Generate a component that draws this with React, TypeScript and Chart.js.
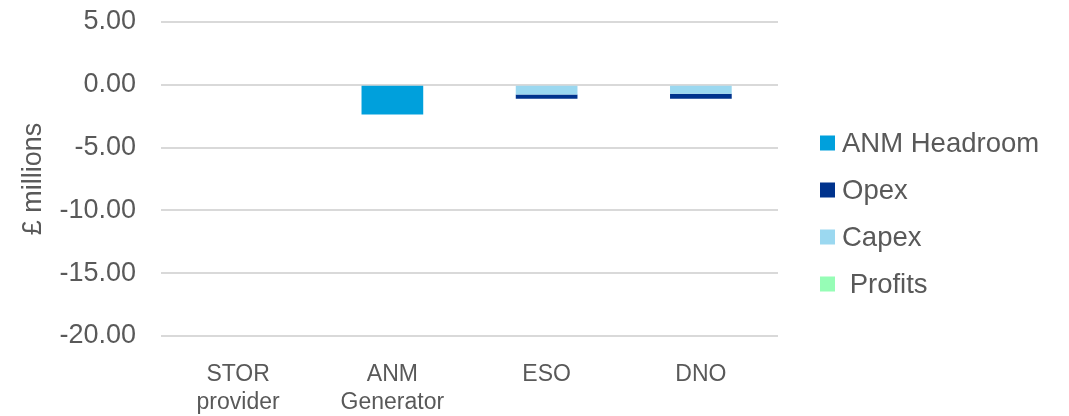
import React, { useEffect, useRef } from "react";
import { Chart, registerables } from "chart.js";

Chart.register(...registerables);

const categories: (string | string[])[] = [["STOR", "provider"], ["ANM", "Generator"], "ESO", "DNO"];
const anmHeadroom = [0, -2.36, 0, 0];
const opex = [0, 0, -0.35, -0.4];
const capex = [0, 0, -0.77, -0.72];
const profits = [0, 0, 0, 0];
const yTicks = [5, 0, -5, -10, -15, -20];

const FONT = "'Liberation Sans', Arial, sans-serif";
const TEXT = "#595959";

// Legend drawn on the canvas next to the plot area, in dataset order.
const rightLegend = {
  id: "rightLegend",
  afterDraw(chart: any) {
    const ctx = chart.ctx as CanvasRenderingContext2D;
    const area = chart.chartArea;
    const boxX = area.right + 42;
    const firstY = 143;
    const step = 47;
    const box = 15;
    ctx.save();
    ctx.font = `27.5px ${FONT}`;
    ctx.textBaseline = "middle";
    ctx.textAlign = "left";
    chart.data.datasets.forEach((ds: any, i: number) => {
      const cy = firstY + i * step;
      ctx.fillStyle = ds.backgroundColor;
      ctx.fillRect(boxX, cy - box / 2, box, box);
      ctx.fillStyle = TEXT;
      ctx.fillText(ds.label, boxX + box + 7, cy + 1);
    });
    ctx.restore();
  },
};

export default function App() {
  const ref = useRef<HTMLCanvasElement | null>(null);
  useEffect(() => {
    document.body.style.margin = "0";
    const canvas = ref.current!;
    const chart = new Chart(canvas, {
      type: "bar",
      data: {
        labels: categories,
        datasets: [
          { label: "ANM Headroom", data: anmHeadroom, backgroundColor: "#00A0DC", order: 0 },
          { label: "Opex", data: opex, backgroundColor: "#00338D", order: 2 },
          { label: "Capex", data: capex, backgroundColor: "#9BD8F0", order: 1 },
          { label: " Profits", data: profits, backgroundColor: "#96FDB6", order: 3 },
        ],
      },
      plugins: [rightLegend],
      options: {
        responsive: false,
        animation: false,
        layout: { padding: { top: 22, bottom: 0, left: 0, right: 291 } },
        datasets: { bar: { barPercentage: 0.4, categoryPercentage: 1.0 } },
        scales: {
          x: {
            stacked: true,
            grid: { display: false, drawTicks: false },
            border: { display: false },
            ticks: { color: TEXT, font: { family: FONT, size: 23 }, padding: 25, maxRotation: 0, autoSkip: false },
            afterFit: (s: any) => { s.height = 80; },
          },
          y: {
            stacked: true,
            min: Math.min(...yTicks),
            max: Math.max(...yTicks),
            grid: { color: "#d9d9d9", lineWidth: 2, drawTicks: true, tickLength: 25, tickColor: "rgba(0,0,0,0)" },
            border: { display: false },
            ticks: {
              stepSize: 5,
              color: TEXT,
              font: { family: FONT, size: 27 },
              padding: 0,
              callback: (v: any) => Number(v).toFixed(2),
            },
            title: {
              display: true,
              text: "£ millions",
              color: TEXT,
              font: { family: FONT, size: 27 },
              padding: { top: 17, bottom: 0 },
            },
            afterFit: (s: any) => { s.width = 161; },
          },
        },
        plugins: {
          tooltip: { enabled: false },
          legend: { display: false },
        },
      },
    });
    return () => chart.destroy();
  }, []);
  return (
    <div style={{ position: "absolute", left: 0, top: 0, width: 1069, height: 416 }}>
      <canvas ref={ref} width={1069} height={416} />
    </div>
  );
}
